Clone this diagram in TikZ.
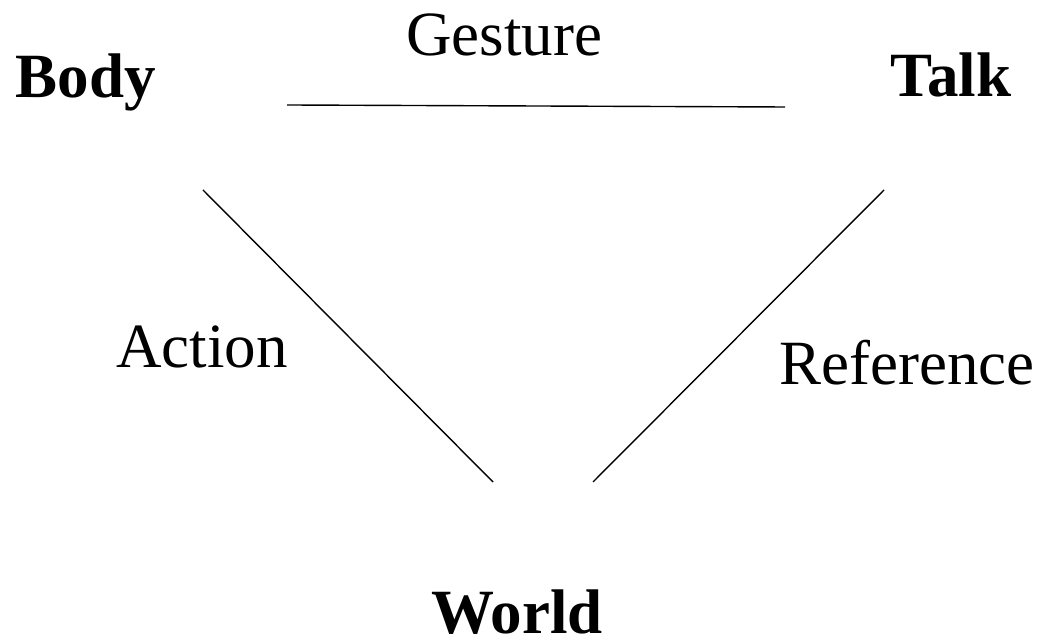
\documentclass[tikz,border=0pt]{standalone}
\usepackage{fontspec}
\setmainfont{Liberation Serif}
\begin{document}
\begin{tikzpicture}[x=1pt,y=1pt,line width=1.4pt,font=\fontsize{63}{63}\selectfont]
\tikzset{lbl/.style={anchor=base,inner sep=0pt},
  corner/.style={lbl,font=\fontsize{63}{63}\selectfont\bfseries}}
\useasboundingbox (0,0) rectangle (1041,639);
\node[corner] (body) at (86,541) {Body};
\node[corner] (talk) at (951,542) {Talk};
\node[corner] (world) at (517,5) {World};
\node[lbl] (gesture) at (504,583) {Gesture};
\node[lbl] (action) at (202,271) {Action};
\node[lbl] (reference) at (907,254) {Reference};
\coordinate (g1) at (287,534);
\coordinate (g2) at (785,532);
\coordinate (a1) at (203,449);
\coordinate (a2) at (493,157);
\coordinate (r1) at (884,449);
\coordinate (r2) at (593,157);
\draw (g1)--(g2);
\draw (a1)--(a2);
\draw (r1)--(r2);
\end{tikzpicture}
\end{document}
